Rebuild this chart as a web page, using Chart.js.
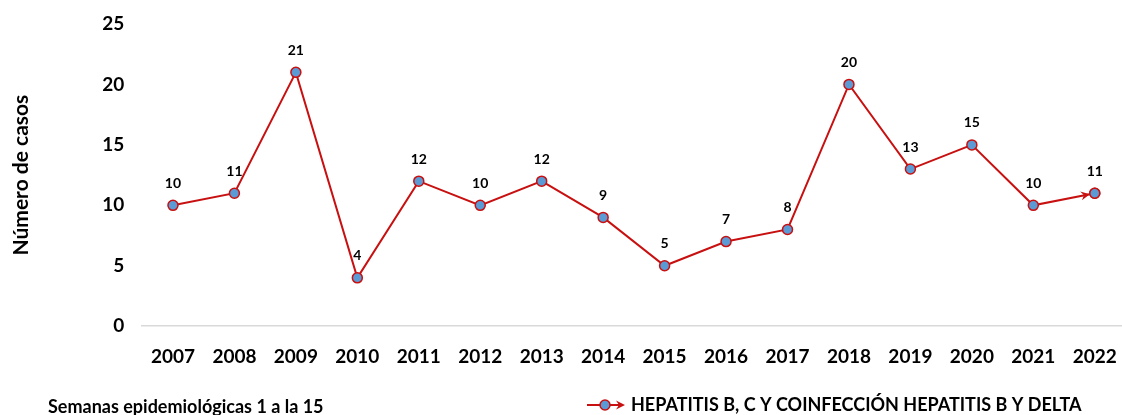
<!DOCTYPE html>
<html>
<head>
<meta charset="utf-8">
<script src="https://cdn.jsdelivr.net/npm/chart.js@4/dist/chart.umd.min.js"></script>
<style>
  html, body { margin: 0; padding: 0; background: #fff; overflow: hidden; }
  #wrap { width: 1132px; height: 415px; position: relative; }
</style>
</head>
<body>
<div id="wrap"><canvas id="casosChart"></canvas></div>
<script>
// Data
const years = ['2007', '2008', '2009', '2010', '2011', '2012', '2013', '2014', '2015', '2016', '2017', '2018', '2019', '2020', '2021', '2022'];
const casos = [10, 11, 21, 4, 12, 10, 12, 9, 5, 7, 8, 20, 13, 15, 10, 11];
const yTicks = [0, 5, 10, 15, 20, 25];
const seriesName = 'HEPATITIS B, C Y COINFECCIÓN HEPATITIS B Y DELTA';
const noteText = 'Semanas epidemiológicas 1 a la 15';

const FONT = 'Lato, "Open Sans", sans-serif';
const lineColor = '#C81010';
const pointFill = '#5B9BD5';

// Labels above points, arrow on last segment, legend + note at the bottom
const extrasPlugin = {
    id: 'extras',
    afterDatasetsDraw(chart) {
        const ctx = chart.ctx;
        const pts = chart.getDatasetMeta(0).data;
        ctx.save();
        ctx.fillStyle = '#000';
        ctx.font = 'bold 14px ' + FONT;
        ctx.textAlign = 'center';
        ctx.textBaseline = 'middle';
        pts.forEach((p, i) => {
            ctx.fillText(String(casos[i]), p.x, p.y - 22);
        });

        // arrow head at end of last segment
        const a = pts[pts.length - 2], b = pts[pts.length - 1];
        const ang = Math.atan2(b.y - a.y, b.x - a.x);
        const tipX = b.x - Math.cos(ang) * 5, tipY = b.y - Math.sin(ang) * 5;
        drawArrow(ctx, tipX, tipY, ang);
        // redraw last point on top
        ctx.beginPath();
        ctx.arc(b.x, b.y, 5, 0, Math.PI * 2);
        ctx.fillStyle = pointFill;
        ctx.fill();
        ctx.lineWidth = 1.5;
        ctx.strokeStyle = lineColor;
        ctx.stroke();

        // note
        ctx.fillStyle = '#000';
        ctx.textAlign = 'left';
        ctx.font = 'bold 18px ' + FONT;
        ctx.fillText(noteText, 48, 407);

        // legend
        const lx = 587, ly = 405;
        ctx.strokeStyle = lineColor;
        ctx.lineWidth = 2;
        ctx.beginPath();
        ctx.moveTo(lx, ly);
        ctx.lineTo(lx + 32, ly);
        ctx.stroke();
        drawArrow(ctx, lx + 38, ly, 0);
        ctx.beginPath();
        ctx.arc(lx + 18, ly, 5, 0, Math.PI * 2);
        ctx.fillStyle = pointFill;
        ctx.fill();
        ctx.lineWidth = 1.5;
        ctx.stroke();
        ctx.fillStyle = '#000';
        ctx.font = 'bold 18px ' + FONT;
        ctx.fillText(seriesName, lx + 44, ly);
        ctx.restore();
    }
};

function drawArrow(ctx, x, y, ang) {
    ctx.save();
    ctx.translate(x, y);
    ctx.rotate(ang);
    ctx.beginPath();
    ctx.moveTo(0, 0);
    ctx.lineTo(-9, -4.5);
    ctx.lineTo(-6, 0);
    ctx.lineTo(-9, 4.5);
    ctx.closePath();
    ctx.fillStyle = lineColor;
    ctx.fill();
    ctx.restore();
}

document.addEventListener('DOMContentLoaded', function() {
    const ctx = document.getElementById('casosChart').getContext('2d');
    new Chart(ctx, {
        type: 'line',
        data: {
            labels: years,
            datasets: [{
                label: seriesName,
                data: casos,
                borderColor: lineColor,
                borderWidth: 2,
                backgroundColor: pointFill,
                pointBackgroundColor: pointFill,
                pointBorderColor: lineColor,
                pointBorderWidth: 1.5,
                pointRadius: 5,
                tension: 0,
                clip: false
            }]
        },
        options: {
            responsive: true,
            maintainAspectRatio: false,
            animation: false,
            layout: { padding: { top: 24, right: 0, bottom: 28, left: 5 } },
            plugins: {
                legend: { display: false },
                tooltip: { enabled: false }
            },
            scales: {
                x: {
                    offset: true,
                    afterFit(scale) {
                        scale.paddingLeft = 0;
                        scale.paddingRight = 0;
                    },
                    grid: { display: false, drawTicks: false },
                    border: { display: true, color: '#D9D9D9', width: 1.5 },
                    ticks: {
                        color: '#000',
                        padding: 19,
                        maxRotation: 0,
                        font: { family: FONT, size: 19, weight: 'bold' }
                    }
                },
                y: {
                    min: 0,
                    max: 25,
                    afterBuildTicks(axis) {
                        axis.ticks = yTicks.map(v => ({ value: v }));
                    },
                    afterFit(scale) {
                        scale.paddingTop = 0;
                        scale.paddingBottom = 0;
                    },
                    grid: { display: false, drawTicks: false },
                    border: { display: false },
                    ticks: {
                        color: '#000',
                        padding: 18,
                        font: { family: FONT, size: 19, weight: 'bold' }
                    },
                    title: {
                        display: true,
                        text: 'Número de casos',
                        color: '#000',
                        padding: { bottom: 50 },
                        font: { family: FONT, size: 21, weight: 'bold' }
                    }
                }
            }
        },
        plugins: [extrasPlugin]
    });
});
</script>
</body>
</html>
